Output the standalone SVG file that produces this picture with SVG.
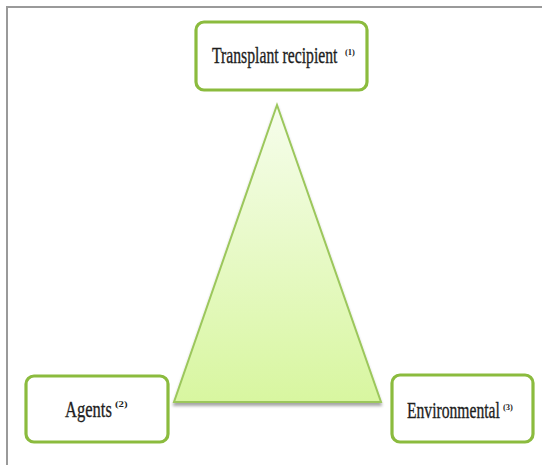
<svg xmlns="http://www.w3.org/2000/svg" width="542" height="465" viewBox="0 0 542 465">
  <style>
    .box { fill: #ffffff; stroke: #8bbb3e; stroke-width: 3.2; }
    .lbl { font-family: "Liberation Serif", "Times New Roman", serif; font-size: 23px; fill: #1e1e1e; stroke: #1e1e1e; stroke-width: 0.35; }
    .sup { font-family: "Liberation Serif", "Times New Roman", serif; font-size: 9px; font-weight: bold; fill: #1e1e1e; }
    .frame { stroke: #9a9a9a; stroke-width: 2; fill: none; }
  </style>
  <defs>
    <linearGradient id="triFill" x1="0" y1="0" x2="0" y2="1">
      <stop offset="0" stop-color="#f6fdec"/>
      <stop offset="1" stop-color="#d8f6a0"/>
    </linearGradient>
    <filter id="soft" x="-10%" y="-10%" width="120%" height="130%">
      <feGaussianBlur in="SourceAlpha" stdDeviation="1.6"/>
      <feOffset dx="0" dy="2.5" result="b"/>
      <feComponentTransfer><feFuncA type="linear" slope="0.35"/></feComponentTransfer>
      <feMerge><feMergeNode/><feMergeNode in="SourceGraphic"/></feMerge>
    </filter>
  </defs>

  <rect width="542" height="465" fill="#ffffff"/>
  <!-- page frame -->
  <path class="frame" d="M7,465 V7 H542"/>

  <!-- central triangle -->
  <g id="triangle">
    <polygon points="277,105 174,402 381,402" fill="url(#triFill)" stroke="#9cc75c" stroke-width="2" filter="url(#soft)"/>
  </g>

  <g id="connectors"></g>

  <!-- labels are set in a narrow (horizontally compressed) serif -->
  <g id="recipient">
    <rect class="box" x="196" y="22" width="171" height="68" rx="8"/>
    <text class="lbl" transform="translate(212,63) scale(0.683,1)">Transplant recipient</text>
    <text class="sup" transform="translate(345,55) scale(0.95,1)">(1)</text>
  </g>

  <g id="agents">
    <rect class="box" x="26" y="376" width="142" height="66" rx="8"/>
    <text class="lbl" transform="translate(65,417) scale(0.72,1)">Agents</text>
    <text class="sup" transform="translate(115,407) scale(1.2,1)">(2)</text>
  </g>

  <g id="environmental">
    <rect class="box" x="392" y="375" width="141" height="67" rx="8"/>
    <text class="lbl" transform="translate(407,418) scale(0.68,1)">Environmental</text>
    <text class="sup" transform="translate(503,410) scale(0.95,1)">(3)</text>
  </g>
</svg>
